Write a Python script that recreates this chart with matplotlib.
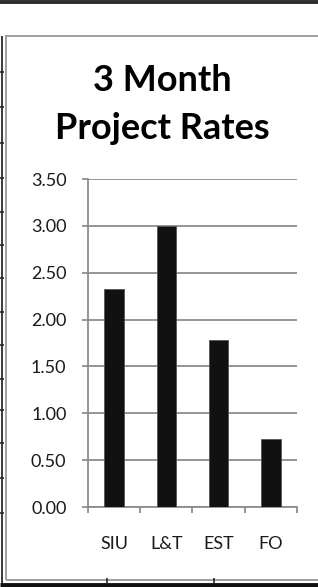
# Recreate the "3 Month Project Rates" Excel-style column chart.

import matplotlib
matplotlib.use("Agg")
import matplotlib.pyplot as plt
from matplotlib.lines import Line2D
import numpy as np

# Data
categories = ["SIU", "L&T", "EST", "FO"]
rates = [2.33, 3.00, 1.78, 0.73]
y_ticks = [0.0, 0.5, 1.0, 1.5, 2.0, 2.5, 3.0, 3.5]
title_lines = ["3 Month", "Project Rates"]

W, H = 318, 587
plt.rcParams['font.family'] = ['Lato', 'DejaVu Sans']


def fx(px):
    return px / W


def fy(py):
    return 1 - py / H


def frame_line(fig, xs, ys, color, lw):
    fig.add_artist(Line2D([fx(x) for x in xs], [fy(y) for y in ys],
                          color=color, linewidth=lw, solid_capstyle='butt'))


def main():
    fig = plt.figure(figsize=(W / 100, H / 100), dpi=100)
    fig.patch.set_facecolor('white')

    # Surrounding worksheet frame bits
    frame_line(fig, [0, W], [2, 2], '#2b2b2b', 2.8)
    frame_line(fig, [5, W], [36, 36], '#a0a0a0', 1.4)
    frame_line(fig, [2, 2], [36, H], '#2b2b2b', 1.3)
    frame_line(fig, [6, 6], [36, 580], '#a0a0a0', 1.4)
    frame_line(fig, [6, W], [580, 580], '#a0a0a0', 1.4)
    frame_line(fig, [0, W], [585, 585], '#111111', 3.5)
    for ty in [72, 107, 143, 178, 212, 245, 278, 312, 345, 379, 410, 443, 478, 513]:
        frame_line(fig, [0, 4], [ty, ty], '#2b2b2b', 1.2)
    for tx in [107, 214]:
        frame_line(fig, [tx, tx], [578, 583], '#2b2b2b', 1.2)

    # Plot area
    ax = fig.add_axes([fx(88), fy(507), fx(297) - fx(88), fy(179) - fy(507)])
    x = np.arange(len(categories))
    ax.bar(x, rates, width=0.37, color='#111111', edgecolor='#555555',
           linewidth=0.6, zorder=3)

    ax.set_xlim(-0.5, len(categories) - 0.5)
    ax.set_ylim(0, 3.5)
    ax.set_yticks(y_ticks)
    ax.set_yticklabels([f"{v:.2f}" for v in y_ticks])
    ax.set_xticks(x)
    ax.set_xticklabels(categories)
    ax.set_xticks(np.arange(len(categories) + 1) - 0.5, minor=True)

    ax.yaxis.grid(True, color='#8c8c8c', linewidth=1.3, zorder=0)
    ax.set_axisbelow(True)
    for side in ['top', 'right']:
        ax.spines[side].set_visible(False)
    for side in ['left', 'bottom']:
        ax.spines[side].set_color('#8c8c8c')
        ax.spines[side].set_linewidth(1.3)

    ax.tick_params(axis='y', direction='out', length=4.5, width=1.3,
                   color='#8c8c8c', labelsize=13, labelcolor='#1a1a1a', pad=11)
    ax.tick_params(axis='x', which='major', length=0, labelsize=13,
                   labelcolor='#1a1a1a', pad=21)
    ax.tick_params(axis='x', which='minor', direction='out', length=4.5,
                   width=1.3, color='#8c8c8c')

    # Title
    fig.text(fx(162), fy(91), title_lines[0], ha='center', va='baseline',
             fontsize=26, fontweight='bold', color='black')
    fig.text(fx(162), fy(139), title_lines[1], ha='center', va='baseline',
             fontsize=26, fontweight='bold', color='black')

    fig.savefig("out.png", dpi=100)


if __name__ == "__main__":
    main()
